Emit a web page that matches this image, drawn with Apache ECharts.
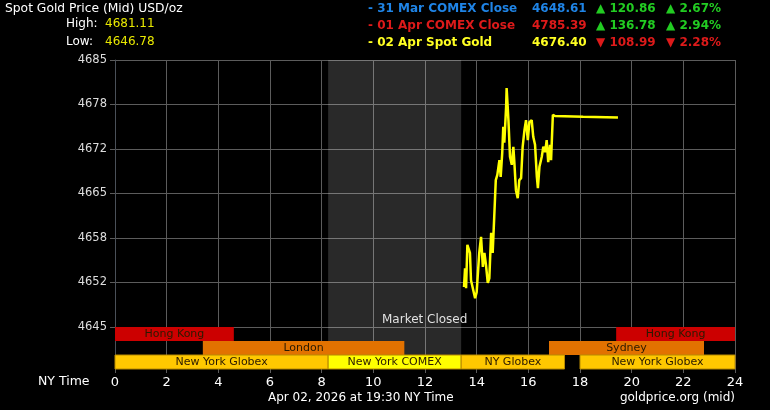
<!DOCTYPE html>
<html>
<head>
<meta charset="utf-8">
<title>Spot Gold Price</title>
<script src="https://cdn.jsdelivr.net/npm/echarts@6.0.0/dist/echarts.min.js"></script>
<style>
  html, body { margin: 0; padding: 0; background: #000; }
  #chart { width: 770px; height: 410px; }
</style>
</head>
<body>
<div id="chart"></div>
<script>
// NY time (hours) and spot price
var times = [13.51, 13.55, 13.59, 13.64, 13.74, 13.78, 13.94, 14.00, 14.10, 14.17,
  14.24, 14.30, 14.36, 14.43, 14.49, 14.56, 14.62, 14.68, 14.74, 14.80,
  14.88, 14.93, 14.99, 15.03, 15.07, 15.14, 15.16, 15.23, 15.29, 15.36,
  15.42, 15.46, 15.52, 15.59, 15.65, 15.72, 15.78, 15.85, 15.91, 15.98,
  16.04, 16.13, 16.19, 16.26, 16.33, 16.37, 16.43, 16.52, 16.58, 16.65,
  16.71, 16.77, 16.84, 16.88, 16.95, 17.03, 18.12, 19.47]
var prices = [4651.0, 4653.8, 4650.8, 4657.3, 4656.1, 4652.0, 4649.3, 4650.2, 4656.1, 4658.5,
  4654.0, 4656.1, 4654.3, 4651.6, 4652.3, 4659.1, 4656.1, 4661.5, 4667.0, 4667.8,
  4670.0, 4667.5, 4671.1, 4675.0, 4672.6, 4678.0, 4680.8, 4676.0, 4670.5, 4669.3,
  4672.0, 4669.6, 4665.5, 4664.3, 4667.0, 4667.3, 4672.0, 4674.5, 4676.0, 4673.0,
  4675.7, 4676.0, 4673.5, 4672.3, 4667.5, 4665.8, 4669.0, 4670.5, 4672.0, 4671.2,
  4673.0, 4669.7, 4672.3, 4670.0, 4676.8, 4676.6, 4676.5, 4676.4]

var yTickLabels = ['4645', '4652', '4658', '4665', '4672', '4678', '4685']
var xTickLabels = ['0', '2', '4', '6', '8', '10', '12', '14', '16', '18', '20', '22', '24']

// trading sessions: name, start hour, end hour, row
var sessionNames = ['Hong Kong', 'Hong Kong', 'London', 'Sydney', 'New York Globex', 'New York COMEX', 'NY Globex', 'New York Globex']
var sessionStart = [0, 19.4, 3.4, 16.8, 0, 8.25, 13.4, 18]
var sessionEnd = [4.6, 24, 11.2, 22.8, 8.25, 13.4, 17.4, 24]
var sessionRow = [0, 0, 1, 1, 2, 2, 2, 2]
var closedStart = 8.25
var closedEnd = 13.4

// header
var highLow = ['4681.11', '4646.78']
var refLabels = ['- 31 Mar COMEX Close', '- 01 Apr COMEX Close', '- 02 Apr Spot Gold']
var refPrices = ['4648.61', '4785.39', '4676.40']
var refChanges = ['120.86', '136.78', '108.99']
var refPct = ['2.67%', '2.94%', '2.28%']
var refUp = [true, true, false]

var FONT = 'DejaVu Sans'
var refColors = ['#1f84e6', '#dd1a1a', '#ffff22']
var sessionColors = {
  'Hong Kong': '#cc0000',
  'London': '#e27200',
  'Sydney': '#e27200',
  'New York Globex': '#ffc800',
  'NY Globex': '#ffc800',
  'New York COMEX': '#ffff00'
}

var chart = echarts.init(document.getElementById('chart'))

var graphics = [
  { type: 'text', left: 5, top: 3, style: { text: 'Spot Gold Price (Mid) USD/oz', fill: '#ffffff', font: '12.3px ' + FONT } },
  { type: 'text', left: 66, top: 18, style: { text: 'High:', fill: '#ffffff', font: '12px ' + FONT } },
  { type: 'text', left: 105, top: 18, style: { text: highLow[0], fill: '#e8e800', font: '12px ' + FONT } },
  { type: 'text', left: 66, top: 36, style: { text: 'Low:', fill: '#ffffff', font: '12px ' + FONT } },
  { type: 'text', left: 105, top: 36, style: { text: highLow[1], fill: '#e8e800', font: '12px ' + FONT } },
  { type: 'text', left: 382, top: 314, style: { text: 'Market Closed', fill: '#dddddd', font: '12px ' + FONT } },
  { type: 'text', left: 38, top: 375, style: { text: 'NY Time', fill: '#ffffff', font: '12.5px ' + FONT } },
  { type: 'text', left: 268, top: 392, style: { text: 'Apr 02, 2026 at 19:30 NY Time', fill: '#ffffff', font: '12px ' + FONT } },
  { type: 'text', right: 35, top: 392, style: { text: 'goldprice.org (mid)', fill: '#ffffff', font: '12px ' + FONT } }
]
refLabels.forEach(function(label, i) {
  var y = 3 + i * 17
  var chg = refUp[i] ? '#22cc22' : '#dd1a1a'
  var arrow = refUp[i] ? '\u25B2' : '\u25BC'
  graphics.push({ type: 'text', left: 368, top: y, style: { text: label, fill: refColors[i], font: 'bold 12px ' + FONT } })
  graphics.push({ type: 'text', left: 532, top: y, style: { text: refPrices[i], fill: refColors[i], font: 'bold 12px ' + FONT } })
  graphics.push({ type: 'text', left: 596, top: y, style: { text: arrow + ' ' + refChanges[i], fill: chg, font: 'bold 12px ' + FONT } })
  graphics.push({ type: 'text', left: 666, top: y, style: { text: arrow + ' ' + refPct[i], fill: chg, font: 'bold 12px ' + FONT } })
})

var sessionData = sessionNames.map(function(name, i) {
  return [sessionStart[i], sessionEnd[i], sessionRow[i], name]
})

chart.setOption({
  backgroundColor: '#000000',
  animation: false,
  textStyle: { fontFamily: FONT },
  graphic: graphics,
  grid: [
    { left: 115, right: 35, top: 60, height: 267, outerBoundsMode: 'none', containLabel: false },
    { left: 115, right: 35, top: 327, height: 42, outerBoundsMode: 'none', containLabel: false }
  ],
  xAxis: [{
    gridIndex: 0,
    type: 'value',
    min: 0,
    max: 24,
    interval: 2,
    axisLine: { show: false },
    axisTick: { show: false },
    axisLabel: { show: false },
    splitLine: { show: true, lineStyle: { color: '#5c5c5c', width: 1 } }
  }, {
    gridIndex: 1,
    type: 'value',
    min: 0,
    max: 24,
    interval: 2,
    axisLine: { show: false },
    axisTick: { show: true, length: 4, lineStyle: { color: '#5c5c5c' } },
    axisLabel: {
      color: '#ffffff',
      fontSize: 13,
      fontFamily: FONT,
      margin: 7,
      formatter: function(v) { return xTickLabels[Math.round(v / 2)] }
    },
    splitLine: { show: true, lineStyle: { color: '#5c5c5c', width: 1 } }
  }],
  yAxis: [{
    gridIndex: 0,
    type: 'value',
    position: 'left',
    min: 4645,
    max: 4685,
    show: false
  }, {
    gridIndex: 0,
    type: 'value',
    position: 'left',
    min: 0,
    max: 6,
    interval: 1,
    axisLine: { show: true, lineStyle: { color: '#4a5058', width: 1 } },
    axisTick: { show: true, length: 5, lineStyle: { color: '#5c5c5c' } },
    axisLabel: {
      color: '#dddddd',
      fontSize: 11.5,
      fontFamily: FONT,
      margin: 8,
      formatter: function(v) { return yTickLabels[v] }
    },
    splitLine: { show: true, lineStyle: { color: '#5c5c5c', width: 1 } }
  }, {
    gridIndex: 1,
    type: 'category',
    position: 'left',
    inverse: true,
    data: ['r0', 'r1', 'r2'],
    axisLine: { show: true, lineStyle: { color: '#4a5058', width: 1 } },
    axisTick: { show: false },
    axisLabel: { show: false },
    splitLine: { show: false }
  }],
  series: [{
    name: 'Spot Gold',
    type: 'line',
    xAxisIndex: 0,
    yAxisIndex: 0,
    data: times.map(function(t, i) { return [t, prices[i]] }),
    showSymbol: false,
    lineStyle: { color: '#ffff00', width: 2.5 },
    z: 3,
    markArea: {
      silent: true,
      itemStyle: { color: 'rgba(255,255,255,0.16)' },
      data: [[{ xAxis: closedStart }, { xAxis: closedEnd }]]
    }
  }, {
    name: 'Closed',
    type: 'custom',
    xAxisIndex: 1,
    yAxisIndex: 2,
    silent: true,
    z: 1,
    data: [[closedStart, closedEnd]],
    renderItem: function(params, api) {
      var a = api.coord([api.value(0), 0])
      var b = api.coord([api.value(1), 0])
      var cs = params.coordSys
      return {
        type: 'rect',
        shape: { x: a[0], y: cs.y, width: b[0] - a[0], height: cs.height },
        style: { fill: 'rgba(255,255,255,0.16)' }
      }
    }
  }, {
    name: 'Sessions',
    type: 'custom',
    xAxisIndex: 1,
    yAxisIndex: 2,
    silent: true,
    z: 2,
    encode: { x: [0, 1], y: 2 },
    data: sessionData,
    renderItem: function(params, api) {
      var name = sessionNames[params.dataIndex]
      var a = api.coord([api.value(0), api.value(2)])
      var b = api.coord([api.value(1), api.value(2)])
      var h = api.size([0, 1])[1]
      var isGlobex = name.indexOf('Globex') >= 0 || name.indexOf('COMEX') >= 0
      return {
        type: 'rect',
        shape: { x: a[0], y: a[1] - h / 2, width: b[0] - a[0], height: h },
        style: {
          fill: sessionColors[name],
          stroke: isGlobex ? '#b88a00' : null,
          lineWidth: isGlobex ? 1 : 0
        },
        textContent: {
          style: { text: name, fill: '#2a1a00', font: '11px ' + FONT }
        },
        textConfig: { position: 'inside' }
      }
    }
  }]
})
</script>
</body>
</html>
